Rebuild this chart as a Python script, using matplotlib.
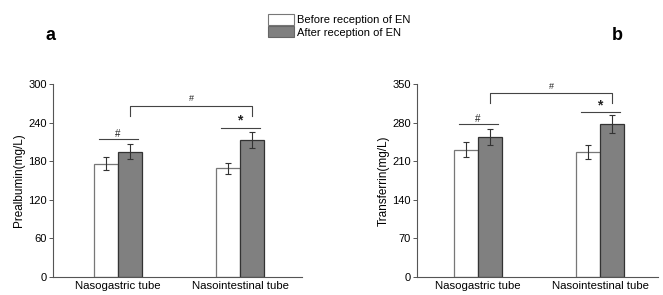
import numpy as np
import matplotlib.pyplot as plt
from matplotlib.patches import Patch

plt.rcParams['font.family'] = ['Liberation Sans', 'DejaVu Sans']

groups = ['Nasogastric tube', 'Nasointestinal tube']
series = ['Before reception of EN', 'After reception of EN']

# prealbumin (mg/L)
pre_before = [176, 169]
pre_before_err = [10, 9]
pre_after = [195, 213]
pre_after_err = [12, 13]

# transferrin (mg/L)
tf_before = [231, 227]
tf_before_err = [14, 13]
tf_after = [254, 277]
tf_after_err = [15, 16]

fig = plt.figure(figsize=(6.63, 2.95), dpi=100)
ax1 = fig.add_axes([0.080, 0.061, 0.3755, 0.654])
ax2 = fig.add_axes([0.629, 0.061, 0.3635, 0.654])

w = 0.2
x = np.arange(len(groups))
edge = '#333333'


def draw(ax, before, berr, after, aerr, ymax, step, ylabel, xlim,
         pair_y, pair_txt, bracket_top, bracket_tip, bracket_txt):
    ax.bar(x - w / 2, before, w, color='white', edgecolor='#777777', linewidth=0.9,
           yerr=berr, error_kw=dict(ecolor=edge, elinewidth=0.8, capsize=2, capthick=0.8))
    ax.bar(x + w / 2, after, w, color='#808080', edgecolor=edge, linewidth=0.9,
           yerr=aerr, error_kw=dict(ecolor=edge, elinewidth=0.8, capsize=2, capthick=0.8))
    ax.set_ylim(0, ymax)
    ax.set_xlim(*xlim)
    ax.set_yticks(np.arange(0, ymax + 1, step))
    ax.set_xticks(x)
    ax.set_xticklabels(groups, fontsize=8.2)
    ax.tick_params(axis='x', length=0, pad=3)
    ax.tick_params(axis='y', labelsize=8, length=3, width=0.7, color='#555555', pad=1.5)
    ax.set_ylabel(ylabel, fontsize=8.5, labelpad=2)
    for s in ['top', 'right']:
        ax.spines[s].set_visible(False)
    for s in ['left', 'bottom']:
        ax.spines[s].set_color('#555555')
        ax.spines[s].set_linewidth(0.8)
    # within-group significance lines
    for i in range(len(groups)):
        ax.plot([x[i] - 0.16, x[i] + 0.16], [pair_y[i], pair_y[i]], color='#444444', lw=0.8)
        ax.text(x[i], pair_y[i], pair_txt[i], ha='center', va='bottom',
                fontsize=7 if pair_txt[i] == '#' else 10, fontweight='bold' if pair_txt[i] == '*' else 'normal',
                color='#222222')
    # between-group bracket
    x0, x1 = x[0] + w / 2, x[1] + w / 2
    ax.plot([x0, x0, x1, x1], [bracket_tip, bracket_top, bracket_top, bracket_tip],
            color='#444444', lw=0.8)
    ax.text((x0 + x1) / 2, bracket_top + ymax * 0.015, bracket_txt, ha='center', va='bottom',
            fontsize=6.5, color='#222222')


draw(ax1, pre_before, pre_before_err, pre_after, pre_after_err, 300, 60,
     'Prealbumin(mg/L)', (-0.533, 1.508),
     [214, 232], ['#', '*'], 266, 250, '#')
draw(ax2, tf_before, tf_before_err, tf_after, tf_after_err, 350, 70,
     'Transferrin(mg/L)', (-0.5, 1.475),
     [277, 299], ['#', '*'], 333, 316, '#')

fig.text(45 / 663, 1 - 36 / 295, 'a', fontsize=13, fontweight='bold', ha='left', va='center')
fig.text(612 / 663, 1 - 36 / 295, 'b', fontsize=13, fontweight='bold', ha='left', va='center')

handles = [Patch(facecolor='white', edgecolor='#777777', linewidth=0.8),
           Patch(facecolor='#808080', edgecolor='#666666', linewidth=0.8)]
fig.legend(handles, series, loc='upper left', bbox_to_anchor=(268 / 663, 1 - 14 / 295),
           frameon=False, fontsize=8, handlelength=2.3, handleheight=1.15,
           labelspacing=0.1, handletextpad=0.3, borderpad=0, borderaxespad=0)

fig.savefig('out.png', dpi=100)
